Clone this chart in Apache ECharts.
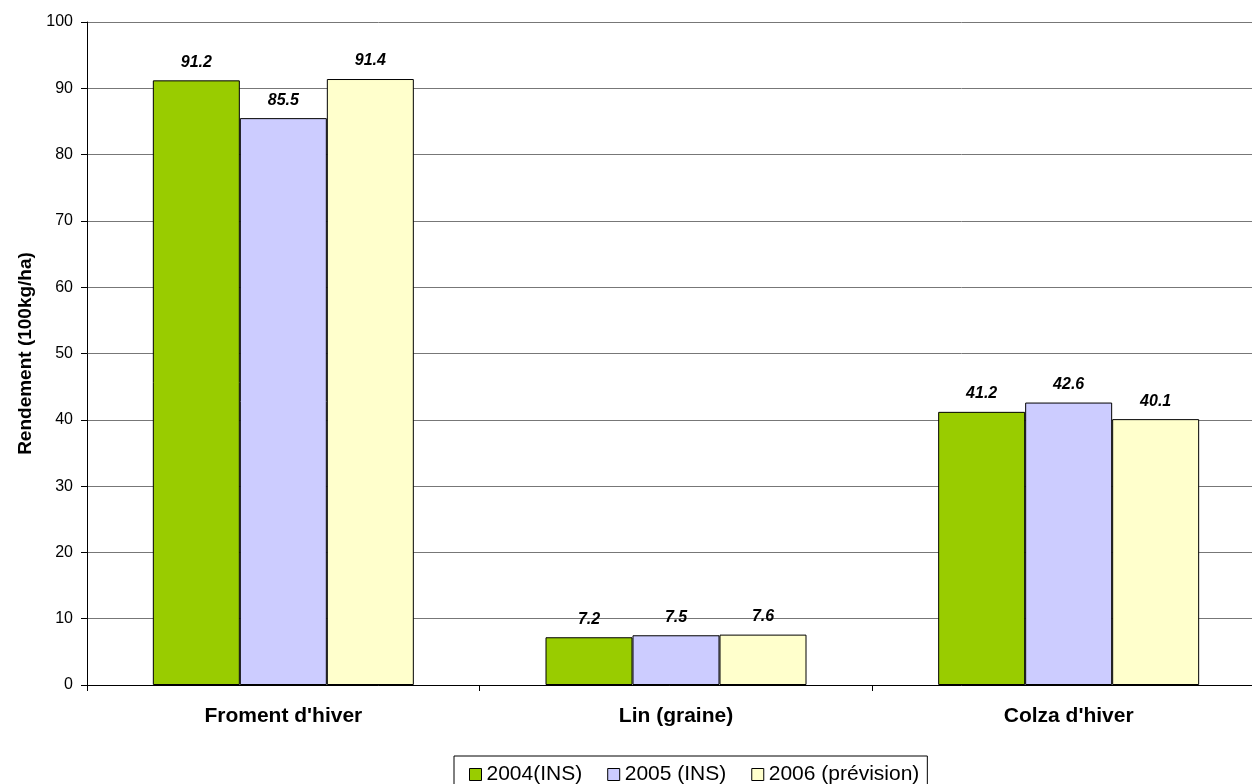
<!DOCTYPE html>
<html>
<head>
<meta charset="utf-8">
<script src="https://cdn.jsdelivr.net/npm/echarts@6/dist/echarts.min.js"></script>
<style>html,body{margin:0;padding:0;background:#fff}#c{width:1252px;height:784px}</style>
</head>
<body>
<div id="c"></div>
<script>
// Crop yields per year
const categories = ["Froment d'hiver", "Lin (graine)", "Colza d'hiver"];
const seriesNames = ["2004(INS)", "2005 (INS)", "2006 (prévision)"];
const y2004 = [91.2, 7.2, 41.2];
const y2005 = [85.5, 7.5, 42.6];
const y2006 = [91.4, 7.6, 40.1];
const colors = ['#99CC00', '#CCCCFF', '#FFFFCC'];

const font = 'Arial, "Liberation Sans", sans-serif';
const chart = echarts.init(document.getElementById('c'));

function barSeries(name, data, color) {
  return {
    name: name,
    type: 'bar',
    data: data,
    barWidth: 87,
    barGap: '0%',
    itemStyle: { color: color, borderColor: '#000', borderWidth: 1 },
    label: {
      show: true, position: 'top', distance: 10,
      formatter: p => p.value.toFixed(1),
      fontFamily: font, fontSize: 16, fontWeight: 'bold', fontStyle: 'italic', color: '#000'
    }
  };
}

chart.setOption({
  animation: false,
  backgroundColor: '#fff',
  grid: { left: 87, top: 22, right: -13, bottom: 99, containLabel: false, outerBoundsMode: 'none' },
  legend: {
    top: 756, left: 454,
    itemWidth: 12, itemHeight: 12, itemGap: 25,
    padding: [8, 8, 8, 15],
    borderColor: '#000', borderWidth: 1,
    textStyle: { fontFamily: font, fontSize: 21, color: '#000' },
    icon: 'rect',
    itemStyle: { borderColor: '#000', borderWidth: 1 },
    data: seriesNames
  },
  xAxis: {
    type: 'category',
    data: categories,
    boundaryGap: true,
    axisLine: { lineStyle: { color: '#000', width: 1 } },
    axisTick: { show: true, length: 6, lineStyle: { color: '#000' } },
    axisLabel: { fontFamily: font, fontSize: 21, fontWeight: 'bold', color: '#000', margin: 21 }
  },
  yAxis: {
    type: 'value',
    min: 0, max: 100, interval: 10,
    name: 'Rendement (100kg/ha)',
    nameLocation: 'middle',
    nameGap: 52,
    nameTextStyle: { fontFamily: font, fontSize: 19, fontWeight: 'bold', color: '#000' },
    axisLine: { show: true, lineStyle: { color: '#000', width: 1 } },
    axisTick: { show: true, length: 6, lineStyle: { color: '#000' } },
    axisLabel: { fontFamily: font, fontSize: 16, color: '#000', margin: 14 },
    splitLine: { show: true, lineStyle: { color: '#777', width: 1 } }
  },
  series: [
    barSeries(seriesNames[0], y2004, colors[0]),
    barSeries(seriesNames[1], y2005, colors[1]),
    barSeries(seriesNames[2], y2006, colors[2])
  ]
});
</script>
</body>
</html>
